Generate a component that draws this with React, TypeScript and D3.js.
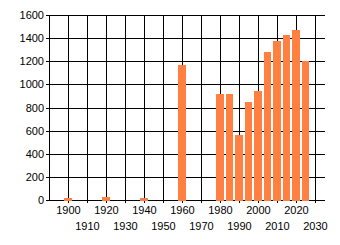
import React from "react";
import * as d3 from "d3";

const years = [1900, 1920, 1940, 1960, 1980, 1985, 1990, 1995, 2000, 2005, 2010, 2015, 2020, 2025];
const values = [16, 25, 16, 1167, 917, 917, 562, 850, 943, 1280, 1375, 1427, 1470, 1202];
const xTicks = [1900, 1910, 1920, 1930, 1940, 1950, 1960, 1970, 1980, 1990, 2000, 2010, 2020, 2030];
const yTicks = [0, 200, 400, 600, 800, 1000, 1200, 1400, 1600];

const W = 340;
const H = 245;
const BAR = "#FF8040";

export default function App() {
  const x = d3.scaleLinear().domain([1890, 2035]).range([49, 324.5]);
  const y = d3.scaleLinear().domain([0, 1600]).range([200, 15]);
  const bw = x(1894) - x(1890);
  const crisp = (v: number) => Math.round(v) + 0.5;
  const left = x(1890);
  const right = x(2035);
  const font = "'Liberation Sans', Arial, sans-serif";

  return (
    <svg
      width={W}
      height={H}
      style={{ position: "absolute", left: 0, top: 0, background: "#fff" }}
      fontFamily={font}
      fontSize={11}
    >
      <rect x={0} y={0} width={W} height={H} fill="#fff" />
      {yTicks.map((t) => (
        <line
          key={"h" + t}
          x1={left - 3}
          x2={right}
          y1={crisp(y(t))}
          y2={crisp(y(t))}
          stroke="#000"
          strokeWidth={1}
          shapeRendering="crispEdges"
        />
      ))}
      {xTicks.map((t) => (
        <line
          key={"v" + t}
          x1={crisp(x(t))}
          x2={crisp(x(t))}
          y1={y(1600)}
          y2={y(0) + 3}
          stroke="#000"
          strokeWidth={1}
          shapeRendering="crispEdges"
        />
      ))}
      <line
        x1={crisp(left)}
        x2={crisp(left)}
        y1={y(1600)}
        y2={y(0) + 1}
        stroke="#000"
        strokeWidth={1}
        shapeRendering="crispEdges"
      />
      {years.map((yr, i) => {
        const top = y(values[i]);
        const h = Math.max(y(0) + 1 - top, 2);
        return (
          <rect
            key={"b" + yr}
            x={x(yr) - bw / 2}
            y={y(0) + 1 - h}
            width={bw}
            height={h}
            fill={BAR}
            shapeRendering="crispEdges"
          />
        );
      })}
      {yTicks.map((t) => (
        <text key={"yl" + t} x={44} y={y(t) + 4} textAnchor="end" fill="#000">
          {t}
        </text>
      ))}
      {xTicks.map((t, i) => (
        <text
          key={"xl" + t}
          x={x(t) + 0.5}
          y={i % 2 === 0 ? 214 : 230}
          textAnchor="middle"
          fill="#000"
        >
          {t}
        </text>
      ))}
    </svg>
  );
}
